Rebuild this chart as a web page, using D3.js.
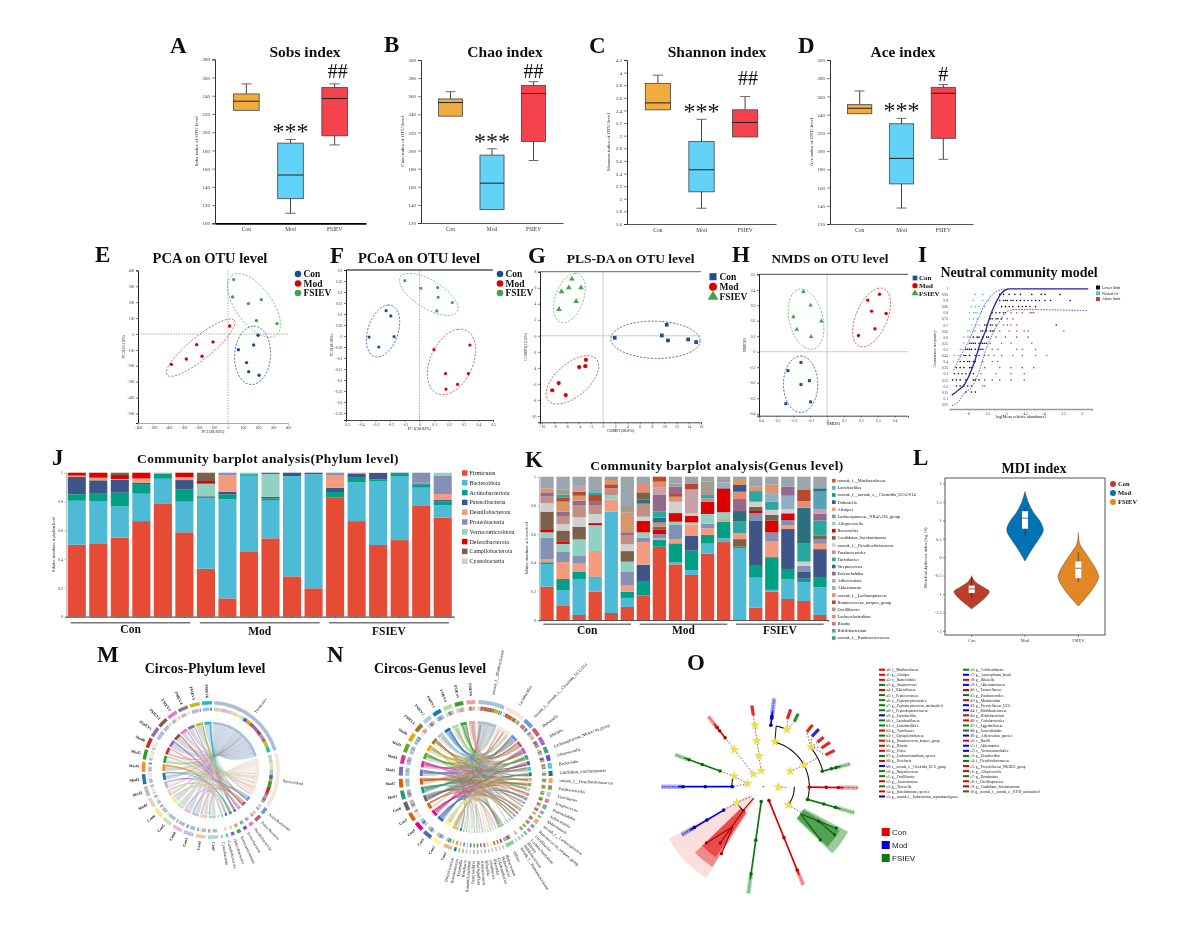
<!DOCTYPE html>
<html><head><meta charset="utf-8">
<script src="https://cdn.jsdelivr.net/npm/d3@7"></script>
<style>html,body{margin:0;padding:0;background:#fff}</style></head>
<body><svg id="c" width="1190" height="930"></svg>
<script>
// ---------- DATA ----------
const groups=["Con","Mod","FSIEV"];
const sobsCon=[224,224,234,242,253], sobsMod=[111,127,153,188,192], sobsFsiev=[186,196,237,249,253];
const chaoCon=[238,238,253,257,265], chaoMod=[135,135,164,195,202], chaoFsiev=[189,210,263,272,276];
const shanCon=[3.41,3.41,3.52,3.83,3.96], shanMod=[1.85,2.11,2.46,2.91,3.26], shanFsiev=[2.98,2.98,3.21,3.41,3.62];
const aceCon=[241,241,247,251,266], aceMod=[137.5,164,192,230,236], aceFsiev=[191,214,263.5,270,273];
const sobsTicks=[100,120,140,160,180,200,220,240,260,280];
const chaoTicks=[120,140,160,180,200,220,240,260,280,300];
const shanTicks=[1.6,1.8,2,2.2,2.4,2.6,2.8,3,3.2,3.4,3.6,3.8,4,4.2];
const aceTicks=[120,140,160,180,200,220,240,260,280,300];
const boxColors=["#F0AC3E","#62D2F6","#F5424F"];

const pcaCon=[[200,-8],[171,-69],[69,-99],[124,-180],[138,-237],[207,-260]];
const pcaMod=[[11,50],[-100,-50],[-209,-67],[-173,-140],[-278,-157],[-378,-191]];
const pcaFsiev=[[38,342],[31,233],[222,216],[136,191],[189,84],[327,65]];
const pcoaCon=[[-.227,.115],[-.195,.091],[-.173,-.003],[-.343,-.005],[-.277,-.05]];
const pcoaMod=[[.098,-.062],[.343,-.041],[.177,-.171],[.332,-.171],[.259,-.22],[.18,-.242]];
const pcoaFsiev=[[-.1,.252],[.009,.217],[.123,.22],[.127,.176],[.223,.152],[.118,.114]];
const plsCon=[[1.9,-.25],[9.6,.04],[10.4,1.38],[10.6,-.58],[13.9,-.46],[15.2,-.79]];
const plsMod=[[-2.8,-3],[-2.9,-3.8],[-3.9,-3.9],[-7.25,-5.9],[-6.1,-7.4],[-8.3,-6.8]];
const plsFsiev=[[-5.1,7.1],[-5.6,6],[-3.6,6],[-6.8,5.5],[-4.4,4.3],[-7.2,3.3]];
const nmdsCon=[[-.155,-.069],[-.232,-.122],[-.105,-.187],[-.155,-.212],[-.245,-.335],[-.098,-.324]];
const nmdsMod=[[.311,.371],[.241,.333],[.35,.247],[.264,.262],[.284,.148],[.186,.105]];
const nmdsFsiev=[[-.141,.388],[-.098,.3],[-.2,.225],[-.034,.197],[-.18,.144],[-.095,.097]];
// confidence ellipses read in data units: centre x, centre y, half-axis a (dx,dy), half-axis b (dx,dy)
const pcaEllipses=[[164,-134,7,184,120,0],[-182,-86,224,172,47,-55],[173,180,-147,189,98,67]];
const pcoaEllipses=[[-.248,.0227,.032,.118,.109,.0076],[.218,-.118,.041,.148,.159,.018],[.0636,.189,.193,-.079,.05,.0545]];
const plsEllipses=[[8.56,-.5,7.3,-.125,0,2.33],[-5,-5.5,3.63,2.79,2.31,-1.17],[-5.5,4.7,.875,3.08,2.44,.17]];
const nmdsEllipses=[[-.157,-.21,0,.182,.102,0],[.264,.221,.034,.187,.107,.036],[-.125,.21,-.016,.193,.105,-.026]];

const ncmSolid=[[-6.42,.125],[-6.25,.166],[-6.07,.22],[-5.94,.302],[-5.82,.397],[-5.67,.546],[-5.54,.641],[-5.4,.777],[-5.27,.872],[-5.1,.962],[-4.88,.995],[-2.8,.995]];
const ncmUpper=[[-6.38,.329],[-6.2,.438],[-6.03,.533],[-5.85,.655],[-5.72,.75],[-5.54,.872],[-5.32,.954],[-5.1,.989],[-4.88,.995]];
const ncmLower=[[-6.42,.038],[-6.25,.071],[-6.07,.147],[-5.89,.193],[-5.72,.302],[-5.54,.478],[-5.32,.641],[-5.14,.736],[-4.96,.81],[-4.74,.826],[-2.84,.818]];
const ncmFreq=[.95,.9,.85,.8,.75,.7,.65,.6,.55,.5,.45,.4,.35,.3,.25,.2,.15];
const ncmBlack=[[-5.15,-5.05,-4.9,-4.75,-4.6,-4.3,-4.05,-3.95,-3.55],[-5.15,-5.05,-5,-4.95,-4.85,-4.8,-4.7,-4.6,-4.5,-4.4,-4.3,-4.2,-4.1,-3.95,-3.8,-3.28],[-5.1,-5,-4.9,-4.8,-4.65,-4.55,-4.45,-4.35,-4.2],[-5.35,-5.25,-5.15,-5.05,-5],[-5.4,-5.35,-5.25,-5.2,-5.1],[-5.55,-5.5,-5.4,-5.35,-5.25,-3.65],[-5.65,-5.6,-5.5,-5.4,-5.35,-5.3],[-5.85,-5.75,-5.7,-5.6,-5.5,-5.45],[-5.95,-5.9,-5.85,-5.8,-5.7,-5.65,-5.6,-5.55,-5.5],[-6.05,-6,-5.95,-5.9,-5.8,-5.7,-5.65,-5.6],[-6.1,-6.05,-5.95,-5.8,-5.7],[-6.2,-6.1,-6,-5.95,-5.85,-5.8],[-6.3,-6.2,-6.1,-5.95,-5.9],[-6.35,-6.25,-6.15,-6.05,-5.95,-5.85],[-6.4,-6.3,-6.2,-6.05,-5.85,-5.8,-5.7],[-6.3,-6.2,-6.1,-6,-5.9],[-6.05,-5.9,-5.8]];
const ncmCyan=[[-5.6,-5.8],[-5.85,-5.6,-5.45],[-5.9,-5.8,-5.7,-5.55],[-5.95,-5.85,-5.8,-5.75,-5.65],[-5.95,-5.85,-5.75],[-5.9,-5.8,-5.7],[-6,-5.95,-5.85,-5.8],[-6.1,-6,-5.95],[-6.1],[-6.2,-6.15],[-6.35,-6.25,-6.2],[],[],[],[],[],[]];
const ncmRed=[[],[],[],[-4.85,-4.7,-4.55,-4.35,-4.3,-4.25],[-4.95,-4.8],[-5.05,-4.95,-4.85,-4.7],[-5.15,-4.9,-4.7,-4.5,-4.4,-3.45],[-5.25,-5,-4.7,-4.4],[-5.4,-5.1,-4.85,-4.3],[-5.35,-5.2,-4.7,-4.55,-4.2],[-5.55,-5.45,-5.3,-5.1,-4.8,-4.55,-4.2,-3.9],[-5.6,-5.35,-5.2],[-5.55,-5.15,-4.85,-4.55,-4.25],[-5.65,-5.25,-4.85,-4.5],[-5.55,-5.35,-5.15,-4.85,-4.5],[-5.6,-5.55],[]];

const samples=["Con1","Con2","Con3","Con4","Con5","Con6","Mod1","Mod2","Mod3","Mod4","Mod5","Mod6","FSIEV1","FSIEV2","FSIEV3","FSIEV4","FSIEV5","FSIEV6"];
const phylumNames=["Firmicutes","Bacteroidota","Actinobacteriota","Patescibacteria","Desulfobacterota","Proteobacteria","Verrucomicrobiota","Deferribacterota","Campilobacterota","Cyanobacteria"];
const phylumColors=["#E64B35","#4DBBD5","#00A087","#3C5488","#F39B7F","#8491B4","#91D1C2","#DC0000","#7E6148","#CCCCCC"];
const firmicutes=[.50,.505,.549,.664,.787,.586,.333,.127,.454,.544,.28,.197,.826,.664,.498,.532,.769,.688];
const bacteroidota=[.305,.295,.217,.19,.171,.213,.489,.688,.525,.262,.697,.793,0,.269,.444,.445,.127,.087];
const actinobacteriota=[.045,.054,.095,.067,.033,.083,.004,.035,.011,.016,0,0,.04,.032,.012,.016,.023,.024];
const patescibacteria=[.12,.093,.09,.009,0,.067,.01,.018,0,.011,.023,.01,.03,.03,.044,.007,.007,.011];
const desulfobacterota=[.01,.018,.005,.03,.009,.021,0,.113,0,0,0,0,.085,.005,.002,0,.004,.042];
const proteobacteria=[0,0,0,0,0,0,0,.019,0,0,0,0,.019,0,0,0,.07,.129];
const verrucomicrobiota=[0,0,0,0,0,0,.088,0,.01,.158,0,0,0,0,0,0,0,.019];
const deferribacterota=[.02,.035,.028,.04,0,.03,.018,0,0,0,0,0,0,0,0,0,0,0];
const campilobacterota=[0,0,.016,0,0,0,.058,0,0,.009,0,0,0,0,0,0,0,0];
const cyanobacteria=[0,0,0,0,0,0,0,0,0,0,0,0,0,0,0,0,0,0];
const phylumMatrix=[firmicutes,bacteroidota,actinobacteriota,patescibacteria,desulfobacterota,proteobacteria,verrucomicrobiota,deferribacterota,campilobacterota,cyanobacteria];

const genusNames=["norank_f__Muribaculaceae","Lactobacillus","norank_f__norank_o__Clostridia_UCG-014","Dubosiella","Alistipes","Lachnospiraceae_NK4A136_group","Alloprevotella","Bacteroides","Candidatus_Saccharimonas","norank_f__Desulfovibrionaceae","Parabacteroides","Turicibacter","Streptococcus","Enterorhabdus","Adlercreutzia","Akkermansia","norank_f__Lachnospiraceae","Ruminococcus_torques_group","Oscillibacter","Lachnoclostridium","Blautia","Bifidobacterium","norank_f__Ruminococcaceae"];
const genusColors=["#E64B35","#4DBBD5","#00A087","#3C5488","#F39B7F","#8491B4","#91D1C2","#DC0000","#7E6148","#D0D0D0","#C28F85","#2CA7A0","#29707F","#94698B","#C9A0AA","#8FB0C4","#D9966B","#B94A2E","#A8998E","#E88B74","#C77F7F","#56A0B8","#3F9A82","#9AA5AD"];
const othersName="Others";
const gCon1=[[0,.233],[1,.158],[2,.012],[4,.019],[5,.153],[6,.037],[7,.016],[8,.128],[9,.058],[10,.047],[13,.03],[16,.028],[23,.081]];
const gCon2=[[0,.098],[1,.109],[2,.079],[4,.119],[5,.07],[6,.056],[7,.014],[8,.079],[9,.044],[10,.058],[13,.03],[16,.07],[17,.03],[11,.02],[18,.036],[23,.088]];
const gCon3=[[0,.035],[1,.251],[2,.049],[4,.058],[5,.053],[6,.116],[8,.088],[9,.067],[10,.084],[13,.03],[16,.035],[17,.028],[14,.047],[23,.058]];
const gCon4=[[0,.198],[1,.098],[2,.007],[4,.179],[6,.181],[7,.014],[9,.063],[10,.063],[13,.023],[17,.047],[11,.019],[23,.109]];
const gCon5=[[0,.049],[1,.707],[4,.086],[6,.03],[10,.047],[17,.028],[16,.03],[18,.023]];
const gCon6=[[0,.091],[1,.063],[2,.042],[4,.044],[5,.095],[6,.072],[8,.074],[9,.047],[10,.065],[13,.019],[16,.137],[18,.053],[23,.198]];
const gMod1=[[0,.17],[2,.102],[3,.114],[4,.158],[5,.03],[6,.037],[7,.079],[9,.03],[10,.091],[12,.03],[8,.049],[19,.058],[23,.051]];
const gMod2=[[0,.512],[2,.047],[4,.012],[5,.03],[7,.033],[8,.019],[10,.028],[12,.035],[11,.042],[13,.116],[14,.051],[19,.042],[17,.035]];
const gMod3=[[0,.388],[1,.014],[2,.133],[4,.03],[5,.098],[6,.023],[7,.06],[9,.079],[16,.035],[17,.019],[13,.051],[18,.023],[23,.047]];
const gMod4=[[0,.314],[1,.033],[2,.137],[3,.102],[4,.081],[6,.014],[7,.047],[9,.016],[14,.167],[17,.042],[23,.047]];
const gMod5=[[0,.463],[1,.07],[2,.06],[4,.047],[5,.033],[6,.067],[7,.086],[10,.023],[11,.023],[18,.093],[23,.035]];
const gMod6=[[0,.544],[1,.026],[2,.116],[4,.019],[6,.047],[7,.167],[15,.042],[18,.016],[23,.023]];
const gFs1=[[1,.5],[2,.012],[8,.053],[4,.04],[11,.086],[12,.07],[13,.084],[19,.051],[3,.047],[16,.042],[23,.016]];
const gFs2=[[0,.086],[1,.209],[2,.088],[3,.307],[5,.053],[7,.016],[8,.028],[9,.037],[11,.074],[16,.03],[23,.07]];
const gFs3=[[0,.198],[1,.012],[2,.228],[4,.109],[5,.063],[7,.081],[8,.042],[9,.035],[11,.058],[15,.053],[16,.067],[23,.053]];
const gFs4=[[0,.147],[1,.14],[2,.07],[3,.279],[4,.028],[5,.035],[7,.047],[9,.03],[15,.093],[13,.063],[23,.07]];
const gFs5=[[0,.133],[1,.133],[2,.023],[3,.047],[5,.044],[9,.028],[11,.126],[12,.251],[19,.047],[17,.077],[23,.093]];
const gFs6=[[0,.035],[1,.193],[2,.072],[3,.195],[4,.037],[5,.03],[8,.026],[11,.107],[13,.047],[14,.033],[21,.126],[12,.019],[23,.081]];
const genusBars=[gCon1,gCon2,gCon3,gCon4,gCon5,gCon6,gMod1,gMod2,gMod3,gMod4,gMod5,gMod6,gFs1,gFs2,gFs3,gFs4,gFs5,gFs6];

const mdiConValues=[-1.4,-1.22,-1.083,-.93,-.812,-.677,-.54,-.5], mdiConDensity=[0,.41,.69,.87,.57,.2,.02,0];
const mdiModValues=[-.108,.226,.496,.722,.948,1.218,1.49,1.78], mdiModDensity=[0,.36,.69,.9,.77,.41,.16,0];
const mdiFsValues=[-1.327,-1.038,-.767,-.542,-.361,-.135,.135,.361,.659], mdiFsDensity=[0,.46,.82,1,.9,.66,.33,.07,0];
const mdiBoxes=[[-1.11,-.97,-.86,-.77,-.54],[.57,.77,1.056,1.245,1.33],[-.68,-.57,-.3,-.117,.135]];
const violinColors=["#BC3C29","#0072B5","#E18727"];

const circosPhylumSampleColors=["#A9DDC0","#F9C6A4","#B3C6DE","#F4B3D9","#C8E6B5","#F5E68A","#E3D3BE","#BBBBBB","#1F77B4","#FF8C1A","#2CA02C","#D62728","#9467BD","#8C564B","#E377C2","#7F7F7F","#BCBD22","#17BECF"];
const circosPhylumColors=["#A9BFD9","#F5E6D8","#6C95E8","#CC5A5A","#D98CAF","#8C3FD6","#2EA860","#7F52E0","#4FD0C9","#B7B7B7"];
const circosGenusSampleColors=["#F2B880","#FFF68F","#3A70B5","#E6007E","#C86A1E","#666666","#1E9E77","#D95F02","#7570B3","#E7298A","#66A61E","#E6AB02","#A6761D","#A6CEE3","#1F78B4","#B2DF8A","#33A02C","#FB9A99"];
const circosGenusColors=["#A9BFD9","#F5E6D8","#6C95E8","#C95E5E","#B35CD6","#3DA66B","#6A4FD6","#45CFCF","#0E7C7B","#F2A65A","#7FA63F","#B7CDE8","#E07F7F","#5BB8A0","#C28FD0","#8FC07F","#E0B070","#7FA0D8","#D07FA8","#70C0C0","#B0A060","#A0C8E0","#E8A0B8","#90D0A0","#C0C0E0","#F0C890","#9FD8D0","#D8B8E8","#B8D890","#A8B8D8","#E8C0A0","#98C8A8","#D0A8C0","#F0E090","#A0D0E8","#C8A880","#88B8A8","#0F7F7F"];
const extraGenusNames=["Ileibacterium","Helicobacter","Colidextribacter","Rikenella","Odoribacter","Bilophila","Anaerotruncus","Mucispirillum","Desulfovibrio","Ruminiclostridium","Roseburia","Tyzzerella","Intestinimonas","Butyricicoccus"];
const extraGenusValues=[.06,.05,.07,.04,.05,.06,.04,.05,.06,.04,.05,.04,.05,.18];
const extraGenusSample=[3,7,12,1,15,9,5,16,10,2,13,6,17,11];

const cladeBranches=[[-38,62,80,89,"r"],[-70,46,84,94,"g"],[-90,31,85,102,"b"],[-120.6,46,85,95,"b"],[188,15,93,108,"g"],[157.9,15,95,106,"r"],[75.3,61,80,90,"g"],[90.6,46,80,95,"r"],[106,46,80,95,"g"],[7,62,76,89,"b"]];
const cladeTips=[[-8,72,82,"r"],[19.5,72,82,"r"],[25.5,72,81,"g"],[38.5,70,79,"r"],[44,70,80,"b"],[50.6,70,78,"r"],[56.4,70,80,"r"],[63,70,80,"r"]];
const cladeDashed=[[-8,16,-8,72],[-38,16,-38,62],[-79,16,-70,31],[-70,31,-70,46],[-121,31,-130,15],[-121,31,-120.6,46],[126,31,124,46],[60,31,62,46],[62,46,62,61],[50,62,38.5,70],[50,62,44,70],[50,62,50.6,70],[50,62,56.4,70],[50,62,63,70],[22.5,62,19.5,72],[22.5,62,25.5,72],[-79,16,-90,31],[92,15,92,24]];
const cladeArcs=[[31,90,126],[46,14.5,107],[61.5,50,75],[62,12,22.6],[31.5,-90,-75],[31,-140,-121]];
const cladeRadial=[[14.5,46,12,62]];
const cladeStars=[[-7.7,62],[-8,46.5],[-8,31],[-8,16],[-38,16],[-38,47],[-70,31],[-79,16],[92,15],[126,31],[60,31],[62,46],[50,62],[14.5,46.5],[22.5,62],[-121,31]];
const cladeWedges=[[212,241,15,108,"r",.13],[212.4,226,31,95,"r",.38],[214,226,31,85,"r",.45],[118,134,46,96,"g",.4],[120,133,46,88,"g",.5]];
const cladeSub=[[220,31,217.4,71,"r"],[217.4,50,225.3,80,"r"],[217.4,50,212,79,"r"],[-140,15,220,31,"r"],[126,46,122,65,"g"],[122,65,119.6,84,"g"],[122,65,124,86,"g"],[126,46,133,78,"g"]];
const cladeColors={r:"#E00000",b:"#0000E0",g:"#0A7A0A"};
const biomarkersA=[["a0: f__Muribaculaceae","r"],["a1: g__Alistipes","r"],["a2: o__Bacteroidales","r"],["a3: g__Streptococcus","g"],["a4: f__Rikenellaceae","r"],["a5: f__Peptococcaceae","g"],["a6: o__Peptostreptococcales","g"],["a7: g__Peptostreptococcus_unclassified","g"],["a8: f__Peptostreptococcaceae","g"],["a9: g__Lactobacillus","b"],["b0: f__Lactobacillaceae","g"],["b1: o__Lactobacillales","g"],["b2: g__Turicibacter","r"],["b3: f__Erysipelotrichaceae","g"],["b4: g__Ruminococcus_torques_group","r"],["b5: g__Blautia","r"],["b6: g__Dorea","r"],["b7: g__Lachnoclostridium_species","g"],["b8: g__Roseburia","r"],["b9: f__norank_o__Clostridia_UCG_group","b"],["c0: g__Butyricicoccus","g"],["c1: g__Oscillibacter","g"],["c2: g__Anaerotruncus","r"],["c3: g__Tyzzerella","g"],["c4: g__Intestinimonas_species","r"],["c5: g__norank_f__Eubacterium_coprostanoligenes","b"]];
const biomarkersB=[["c6: g__Colidextribacter","g"],["c7: g__Anaeroplasma_hoarii","b"],["c8: g__Rikenella","r"],["c9: f__Akkermansiaceae","b"],["d0: f__Tannerellaceae","r"],["d1: g__Parabacteroides","g"],["d2: g__Muribaculum","r"],["d3: g__Prevotellaceae_UCG","b"],["d4: f__Bifidobacteriaceae","b"],["d5: g__Bifidobacterium","r"],["d6: o__Coriobacteriales","r"],["d7: f__Eggerthellaceae","g"],["d8: g__Enterorhabdus","g"],["d9: g__Adlercreutzia_species","b"],["e0: c__Bacilli","r"],["e1: f__Akkermansia","b"],["e2: o__Verrucomicrobiales","b"],["e3: g__Desulfovibrio","g"],["e4: f__Desulfovibrionaceae","g"],["e5: g__Prevotellaceae_NK3B31_group","r"],["e6: g__Alloprevotella","r"],["e7: g__Romboutsia","g"],["e8: f__Oscillospiraceae","r"],["e9: g__Candidatus_Saccharimonas","r"],["f0: g__norank_f__norank_o__RF39_unclassified","g"]];
const lefseLegend=["Con","Mod","FSIEV"];

// ---------- HELPERS ----------
const serif="'Liberation Serif',serif", sans="'Liberation Sans',sans-serif";
const svg=d3.select("#c");
const defs=svg.append("defs");
defs.append("filter").attr("id","soft").attr("x",0).attr("y",0).attr("width",1).attr("height",1)
  .attr("filterUnits","objectBoundingBox").append("feGaussianBlur").attr("stdDeviation",.45);
svg.append("rect").attr("width",1190).attr("height",930).attr("fill","#fff");
const root=svg.append("g").attr("filter","url(#soft)");
root.append("rect").attr("width",1190).attr("height",930).attr("fill","#fff");
function txt(s,x,y,size,o={}){
  return root.append("text").text(s).attr("x",x).attr("y",y).attr("font-size",size)
    .attr("font-family",o.family||serif).attr("font-weight",o.weight||"normal")
    .attr("text-anchor",o.anchor||"start").attr("fill",o.fill||"#111")
    .attr("letter-spacing",o.ls||null);
}
const letter=(s,x,y)=>txt(s,x,y,23,{weight:"bold"});
const title=(s,x,y,size=15.5,ls=null)=>txt(s,x,y,size,{weight:"bold",anchor:"middle",ls});
function vlabel(s,x,y,size=4.5){
  root.append("text").text(s).attr("transform",`translate(${x},${y}) rotate(-90)`)
   .attr("font-size",size).attr("font-family",serif).attr("text-anchor","middle").attr("fill","#222");
}
function styleAxis(g,size,color,lw=1){
  g.selectAll("text").attr("font-size",size).attr("font-family",serif).attr("fill","#333");
  g.selectAll(".tick line").attr("stroke",color).attr("stroke-width",.6);
  g.select(".domain").attr("stroke",color).attr("stroke-width",lw);
}
// ---------- BOX PANELS ----------
function boxPanel(o){
  const y=d3.scaleLinear().domain(o.dom).range([o.y1,o.y0]);
  const x=d3.scaleBand().domain(groups).range(o.x).padding(.42);
  const g=root.append("g");
  styleAxis(g.append("g").attr("transform",`translate(${o.x[0]},0)`)
     .call(d3.axisLeft(y).tickValues(o.ticks).tickSize(3).tickPadding(2).tickFormat(d3.format("~g"))),5,"#333");
  styleAxis(g.append("g").attr("transform",`translate(0,${o.y1})`)
     .call(d3.axisBottom(x).tickSize(0).tickPadding(4)),5.5,o.thick?"#000":"#555",o.thick?1.8:1);
  vlabel(o.ylab,o.x[0]-17,(o.y0+o.y1)/2,5);
  o.sets.forEach((s,i)=>{
    const [lo,q1,med,q3,hi]=s, cx=x(groups[i])+x.bandwidth()/2, bw=x.bandwidth();
    g.append("line").attr("x1",cx).attr("x2",cx).attr("y1",y(hi)).attr("y2",y(lo)).attr("stroke","#444");
    [hi,lo].forEach(v=>{ if(v!==q1) g.append("line").attr("x1",cx-bw*.2).attr("x2",cx+bw*.2).attr("y1",y(v)).attr("y2",y(v)).attr("stroke","#666");});
    g.append("rect").attr("x",x(groups[i])).attr("width",bw).attr("y",y(q3)).attr("height",y(q1)-y(q3)).attr("fill",boxColors[i]).attr("stroke","#444").attr("stroke-width",.8);
    g.append("line").attr("x1",x(groups[i])).attr("x2",x(groups[i])+bw).attr("y1",y(med)).attr("y2",y(med)).attr("stroke","#222").attr("stroke-width",1);
  });
  const mx=x("Mod")+x.bandwidth()/2, fx=x("FSIEV")+x.bandwidth()/2;
  txt("***",mx,y(o.sets[1][4]),24,{anchor:"middle"});
  txt(o.hash,fx+(o.hdx||0),o.hashY,20,{anchor:"middle"});
}
boxPanel({dom:[100,280],ticks:sobsTicks,x:[215,366],y0:59.3,y1:223.3,ylab:"Sobs index of OTU level",sets:[sobsCon,sobsMod,sobsFsiev],hash:"##",hashY:78,hdx:3,thick:true});
boxPanel({dom:[120,300],ticks:chaoTicks,x:[421,563],y0:60,y1:223,ylab:"Chao index of OTU level",sets:[chaoCon,chaoMod,chaoFsiev],hash:"##",hashY:78});
boxPanel({dom:[1.6,4.2],ticks:shanTicks,x:[627,776],y0:60,y1:224,ylab:"Shannon index of OTU level",sets:[shanCon,shanMod,shanFsiev],hash:"##",hashY:85,hdx:3});
boxPanel({dom:[120,300],ticks:aceTicks,x:[830,973],y0:60,y1:224,ylab:"Ace index of OTU level",sets:[aceCon,aceMod,aceFsiev],hash:"#",hashY:81});
letter("A",170,53);letter("B",384,52);letter("C",589,53);letter("D",798,53);
title("Sobs index",305,57);title("Chao index",505,57);title("Shannon index",717,57);title("Ace index",903,57);

// ---------- ORDINATION ----------
const ordColors=["#1B4F8F","#DD0000","#3FA34D"], ellColors=["#1F3F7F","#B03A3A","#4CAF50"];
const unitCircle=d3.range(0,361,6).map(d=>d*Math.PI/180);
function ellipse(e){
  const [cx,cy,ax,ay,bx,by]=e;
  return unitCircle.map(t=>[cx+ax*Math.cos(t)+bx*Math.sin(t), cy+ay*Math.cos(t)+by*Math.sin(t)]);
}
function ordPanel(o){
  const x=d3.scaleLinear().domain(o.xd).range(o.xr), y=d3.scaleLinear().domain(o.yd).range(o.yr);
  const g=root.append("g");
  if(o.hz!==false) g.append("line").attr("x1",o.xr[0]).attr("x2",o.xr[1]).attr("y1",y(0)).attr("y2",y(0)).attr("stroke",o.zc).attr("stroke-dasharray",o.zd).attr("stroke-width",o.zw);
  g.append("line").attr("x1",x(0)).attr("x2",x(0)).attr("y1",o.yr[0]).attr("y2",o.yr[1]).attr("stroke",o.zc).attr("stroke-dasharray",o.zd).attr("stroke-width",o.zw);
  styleAxis(g.append("g").attr("transform",`translate(${o.xr[0]},0)`).call(d3.axisLeft(y).tickValues(o.yt).tickSize(2).tickPadding(1.5).tickFormat(d3.format("~g"))),3.8,"#222");
  styleAxis(g.append("g").attr("transform",`translate(0,${o.yr[0]})`).call(d3.axisBottom(x).tickValues(o.xt).tickSize(2).tickPadding(1.5).tickFormat(d3.format("~g"))),3.8,o.bc||"#444",o.bw||1);
  if(o.top) g.append("line").attr("x1",o.xr[0]).attr("x2",o.xr[1]).attr("y1",o.yr[1]).attr("y2",o.yr[1]).attr("stroke",o.top).attr("stroke-width",1);
  txt(o.xl,(o.xr[0]+o.xr[1])/2,o.yr[0]+9.5,4.2,{anchor:"middle"});
  vlabel(o.yl,o.xr[0]-13,(o.yr[0]+o.yr[1])/2,4.2);
  const line=d3.line().x(d=>x(d[0])).y(d=>y(d[1]));
  o.sets.forEach((pts,i)=>{
    g.append("path").attr("d",line(ellipse(o.ell[i]))).attr("fill","none").attr("stroke",ellColors[i]).attr("stroke-width",.7).attr("stroke-dasharray","2.2,1.4");
    const sym=d3.symbol().type(o.sym[i]).size(o.size);
    g.selectAll(null).data(pts).join("path").attr("d",sym).attr("transform",d=>`translate(${x(d[0])},${y(d[1])})`).attr("fill",ordColors[i]);
  });
  groups.forEach((n,i)=>{
    g.append("path").attr("d",d3.symbol().type(o.sym[i]).size(o.lsize)()).attr("transform",`translate(${o.lx},${o.ly[i]})`).attr("fill",ordColors[i]);
    txt(n,o.lx+o.ltx,o.ly[i]+o.lfs*.33,o.lfs,{weight:"bold"});
  });
}
const c3=[d3.symbolCircle,d3.symbolCircle,d3.symbolCircle], s3=[d3.symbolSquare,d3.symbolCircle,d3.symbolTriangle];
ordPanel({xd:[-600,400],xr:[138,288],yd:[-560,400],yr:[423,270.4],xt:d3.range(-600,401,100),yt:d3.range(-500,401,100),zc:"#999",zd:"1.5,1.2",zw:.8,
  xl:"PC1(38.83%)",yl:"PC2(23.19%)",sets:[pcaCon,pcaMod,pcaFsiev],ell:pcaEllipses,sym:c3,size:9,bc:"#aaa",lx:298,ly:[274,283.5,293],lsize:34,ltx:5.5,lfs:9.5});
ordPanel({xd:[-.5,.5],xr:[346,493],yd:[-.382,.3],yr:[420,270],xt:d3.range(-5,6).map(d=>d/10),yt:d3.range(-7,7).map(d=>d*.05),zc:"#aaa",zd:"1.5,1.2",zw:.9,hz:false,top:"#000",
  xl:"PC1(30.82%)",yl:"PC2(18.92%)",sets:[pcoaCon,pcoaMod,pcoaFsiev],ell:pcoaEllipses,sym:c3,size:8,lx:500,ly:[274,283.5,293],lsize:34,ltx:5.5,lfs:9.5});
ordPanel({xd:[-10.3,16],xr:[540,701],yd:[-10.8,8],yr:[422.3,271.7],xt:d3.range(-10,17,2),yt:d3.range(-10,9,2),zc:"#ccc",zd:null,zw:1,top:"#666",
  xl:"COMP1(38.8%)",yl:"COMP2(12.3%)",sets:[plsCon,plsMod,plsFsiev],ell:plsEllipses,sym:s3,size:14,lx:713,ly:[276.7,286.7,296.7],lsize:50,ltx:6.5,lfs:9.5});
ordPanel({xd:[-.404,.48],xr:[759,908],yd:[-.413,.5],yr:[415.7,274.3],xt:d3.range(-4,5).map(d=>d/10),yt:d3.range(-4,6).map(d=>d/10),zc:"#ccc",zd:null,zw:1,top:"#444",
  xl:"NMDS1",yl:"NMDS2",sets:[nmdsCon,nmdsMod,nmdsFsiev],ell:nmdsEllipses,sym:s3,size:9,lx:915,ly:[278,285.7,293.3],lsize:22,ltx:4,lfs:7});
letter("E",95,262);letter("F",330,263);letter("G",528,263);letter("H",732,262);letter("I",918,262);
title("PCA on OTU level",210,263,14.5);title("PCoA on OTU level",419,263,14.5);title("PLS-DA on OTU level",630.6,263,13.5);title("NMDS on OTU level",830,263,13.2);
title("Neutral community model",1019,277,14);

// ---------- NEUTRAL MODEL ----------
(function(){
  const x=d3.scaleLinear().domain([-6.47,-2.71]).range([950,1091.7]), y=d3.scaleLinear().domain([.0115,1]).range([409,288.3]);
  const g=root.append("g");
  const ya=g.append("g").attr("transform","translate(950,0)").call(d3.axisLeft(y).tickValues(d3.range(1,21).map(d=>d*.05)).tickSize(0).tickPadding(2).tickFormat(d3.format("~g")));
  styleAxis(ya,3.6,"none");
  const xa=g.append("g").attr("transform","translate(0,409)").call(d3.axisBottom(x).tickValues([-6,-5.5,-5,-4.5,-4,-3.5,-3]).tickSize(1.5).tickPadding(1.5).tickFormat(d3.format("~g")));
  styleAxis(xa,3.8,"#999",1.6);
  txt("log(Mean relative abundance)",1021,418,4.2,{anchor:"middle"});
  vlabel("Occurrence frequency",936,349,4.2);
  const draw=(rows,col)=>rows.forEach((r,i)=>g.selectAll(null).data(r).join("circle").attr("cx",d=>x(d)).attr("cy",y(ncmFreq[i])).attr("r",.8).attr("fill",col));
  draw(ncmCyan,"#5BBBD8");draw(ncmRed,"#C2452F");draw(ncmBlack,"#111");
  const l=d3.line().x(d=>x(d[0])).y(d=>y(d[1])).curve(d3.curveMonotoneX);
  g.append("path").attr("d",l(ncmSolid)).attr("fill","none").attr("stroke","#23239A").attr("stroke-width",1.3);
  [ncmUpper,ncmLower].forEach(s=>g.append("path").attr("d",l(s)).attr("fill","none").attr("stroke","#3A3AAE").attr("stroke-width",.8).attr("stroke-dasharray","1.6,1.2"));
  ["Lower limit","Neutral fit","Above limit"].forEach((n,i)=>{
    const c=["#111","#5BBBD8","#C2452F"][i];
    g.append("rect").attr("x",1096).attr("y",285.5+i*5.8).attr("width",4).attr("height",4).attr("fill",c);
    txt(n,1102,288.8+i*5.8,3.8);
  });
})();

// ---------- STACKED BARS ----------
function stackedPanel(o){
  const x=d3.scaleBand().domain(samples).range(o.x).paddingInner(o.pad).paddingOuter(o.pad/2);
  const y=d3.scaleLinear().domain([0,1]).range([o.y1,o.y0]);
  const g=root.append("g");
  o.bars.forEach((segs,i)=>{
    const tot=d3.sum(segs,s=>s[1]); let acc=0;
    segs.forEach(([k,v])=>{
      if(v<=0) return;
      const h=v/tot;
      g.append("rect").attr("x",x(samples[i])).attr("width",x.bandwidth()).attr("y",y(acc+h)).attr("height",y(acc)-y(acc+h)).attr("fill",o.colors[k]);
      acc+=h;
    });
  });
  styleAxis(g.append("g").attr("transform",`translate(${o.x[0]},0)`).call(d3.axisLeft(y).tickValues([0,.2,.4,.6,.8,1]).tickSize(1.5).tickPadding(1.5).tickFormat(d3.format("~g"))),3.8,"#999",.6);
  styleAxis(g.append("g").attr("transform",`translate(0,${o.y1})`).call(d3.axisBottom(x).tickSize(1.5).tickFormat("")),3.8,"#555",1.2);
  vlabel(o.ylab,o.x[0]-11,(o.y0+o.y1)/2,3.8);
  [[0,5,"Con"],[6,11,"Mod"],[12,17,"FSIEV"]].forEach(([a,b,n],i)=>{
    g.append("line").attr("x1",x(samples[a])+3).attr("x2",x(samples[b])+x.bandwidth()-3).attr("y1",o.ln).attr("y2",o.ln).attr("stroke","#777").attr("stroke-width",1.4);
    txt(n,(x(samples[a])+x(samples[b])+x.bandwidth())/2,o.lab[i],o.labfs,{weight:"bold",anchor:"middle"});
  });
  o.names.forEach((n,i)=>{
    g.append("rect").attr("x",o.lx).attr("y",o.ly+i*o.ls-o.sw/2).attr("width",o.sw).attr("height",o.sw).attr("fill",o.colors[i]);
    txt(n,o.lx+o.sw+2,o.ly+i*o.ls+o.lf*.33,o.lf,{weight:o.lw||"normal"});
  });
}
const phylumBars=samples.map((s,i)=>phylumMatrix.map((col,k)=>[k,col[i]]));
stackedPanel({bars:phylumBars,colors:phylumColors,names:phylumNames,x:[66,453.5],y0:472.7,y1:616.7,pad:.16,ln:622.7,lab:[632.7,635,635],labfs:11.5,ylab:"Relative abundance at phylum level",lx:462,ly:473,ls:9.8,sw:5.5,lf:6});
stackedPanel({bars:genusBars,colors:genusColors,names:genusNames,x:[539,828],y0:476.7,y1:620,pad:.17,ln:624.3,lab:[634,634,634],labfs:11.5,ylab:"Relative abundance at Genus level",lx:832,ly:480.7,ls:7.15,sw:3.6,lf:4.4});
letter("J",52,465);letter("K",525,467);letter("L",913,465);
title("Community barplot analysis(Phylum level)",268,463,13.5,.35);
title("Community barplot analysis(Genus level)",717,470,13.5,.35);

// ---------- VIOLINS ----------
(function(){
  const x=d3.scaleBand().domain(groups).range([945,1105]);
  const y=d3.scaleLinear().domain([-2,2]).range([631,483.3]);
  const w=d3.scaleLinear().domain([0,1]).range([0,20.3]);
  const g=root.append("g");
  g.append("rect").attr("x",945).attr("y",478).attr("width",160).attr("height",157).attr("fill","none").attr("stroke","#555");
  styleAxis(g.append("g").attr("transform","translate(945,0)").call(d3.axisLeft(y).tickValues([-2,-1.5,-1,-.5,0,.5,1,1.5,2]).tickSize(2).tickPadding(1.5).tickFormat(d3.format("~g"))),4.2,"#444",0);
  styleAxis(g.append("g").attr("transform","translate(0,635)").call(d3.axisBottom(x).tickSize(2).tickPadding(2)),4.4,"#444",0);
  vlabel("Microbial dysbiosis index (log 10)",927,558,4.4);
  const sets=[[mdiConValues,mdiConDensity],[mdiModValues,mdiModDensity],[mdiFsValues,mdiFsDensity]];
  sets.forEach(([vals,dens],i)=>{
    const cx=x(groups[i])+x.bandwidth()/2;
    const pts=vals.map((v,j)=>[v,dens[j]]);
    const area=d3.area().y(d=>y(d[0])).x0(d=>cx-w(d[1])).x1(d=>cx+w(d[1])).curve(d3.curveCatmullRom);
    g.append("path").attr("d",area(pts)).attr("fill",violinColors[i]).attr("stroke","#333").attr("stroke-width",.4);
    const [lo,q1,med,q3,hi]=mdiBoxes[i];
    g.append("line").attr("x1",cx).attr("x2",cx).attr("y1",y(hi)).attr("y2",y(lo)).attr("stroke","#222").attr("stroke-width",.6);
    g.append("rect").attr("x",cx-3).attr("width",6).attr("y",y(q3)).attr("height",y(q1)-y(q3)).attr("fill","#fff");
    g.append("line").attr("x1",cx-3).attr("x2",cx+3).attr("y1",y(med)).attr("y2",y(med)).attr("stroke","#333").attr("stroke-width",.7);
    g.append("circle").attr("cx",1113).attr("cy",484+i*9).attr("r",3).attr("fill",violinColors[i]);
    txt(groups[i],1118,486+i*9,6.5,{weight:"bold"});
  });
  title("MDI index",1034,473,14);
})();

// ---------- CIRCOS ----------
function circos(o){
  const g=root.append("g").attr("transform",`translate(${o.cx},${o.cy})`);
  const rad=d=>d*Math.PI/180;
  const fSum=o.matrix.map(r=>d3.sum(r));
  const sSum=o.sampleNames.map((_,j)=>d3.sum(o.matrix,r=>r[j]));
  const raw=[...fSum.map(v=>o.k*v+o.fMin),...o.sampleNames.map(()=>o.sSpan)];
  const pads=[...fSum.map(()=>o.fPad),...o.sampleNames.map(()=>o.sPad)];
  const factor=360/(d3.sum(raw)+d3.sum(pads));
  let cur=o.start; const sectors=raw.map((v,i)=>{const a=cur,b=cur+v*factor;cur=b+pads[i]*factor;return [a,b];});
  const nF=fSum.length, fa=sectors.slice(0,nF), sa=sectors.slice(nF);
  const fCur=fa.map(d=>d[0]), sCur=sa.map(d=>d[0]);
  const ribbon=d3.ribbon();
  const arc=(r0,r1,a,b)=>d3.arc()({innerRadius:r0,outerRadius:r1,startAngle:rad(a),endAngle:rad(b)});
  const links=[];
  o.matrix.forEach((row,f)=>row.forEach((v,s)=>{
    if(v<=0) return;
    const fw=(fa[f][1]-fa[f][0])*v/fSum[f], sw=(sa[s][1]-sa[s][0])*v/sSum[s];
    links.push({f,s,v,fs:[fCur[f],fCur[f]+fw],ss:[sCur[s],sCur[s]+sw]});
    fCur[f]+=fw;sCur[s]+=sw;
  }));
  links.sort((a,b)=>b.v-a.v);
  g.selectAll(null).data(links).join("path")
    .attr("d",l=>ribbon({source:{startAngle:rad(l.fs[0]),endAngle:rad(l.fs[1]),radius:o.rRib},target:{startAngle:rad(l.ss[0]),endAngle:rad(l.ss[1]),radius:o.rRib}}))
    .attr("fill",l=>o.colors[l.f]).attr("fill-opacity",o.ribOp).attr("stroke",l=>o.sampleColors[l.s]).attr("stroke-width",.25).attr("stroke-opacity",.6);
  const seg=(r0,r1,a,b,c)=>g.append("path").attr("d",arc(r0,r1,a,b)).attr("fill",c);
  fa.forEach((d,i)=>{seg(o.rIn0,o.rIn1,d[0],d[1],o.colors[i]);seg(o.rOut0,o.rOut1,d[0],d[1],o.colors[i]);});
  sa.forEach((d,i)=>{seg(o.rIn0,o.rIn1,d[0],d[1],o.sampleColors[i]);seg(o.rOut0,o.rOut1,d[0],d[1],o.sampleColors[i]);});
  links.forEach(l=>{
    seg(o.rMid0,o.rMid1,l.fs[0],l.fs[1],o.sampleColors[l.s]);
    seg(o.rMid0,o.rMid1,l.ss[0],l.ss[1],o.colors[l.f]);
  });
  const label=(s,b,r,size,w)=>{
    const flip=((b%360)+360)%360>180;
    g.append("text").text(s).attr("transform",`rotate(${b-90}) translate(${r},0)`+(flip?" rotate(180)":""))
      .attr("text-anchor",flip?"end":"start").attr("dominant-baseline","middle").attr("font-size",size).attr("font-family",serif).attr("font-weight",w||"normal").attr("fill","#111");
  };
  fa.forEach((d,i)=>label(o.names[i],(d[0]+d[1])/2,o.rLabF,o.fsF));
  sa.forEach((d,i)=>label(o.sampleNames[i],(d[0]+d[1])/2,o.rLabS,o.fsS,"bold"));
}
circos({cx:210.7,cy:770,matrix:phylumMatrix,names:phylumNames,colors:circosPhylumColors,sampleNames:samples,sampleColors:circosPhylumSampleColors,
  start:3,k:7.2,fMin:1.5,fPad:2.6,sSpan:8.6,sPad:1.9,rRib:45,rIn0:45.5,rIn1:48.3,rMid0:59,rMid1:62.5,rOut0:65.5,rOut1:69,rLabF:73,rLabS:72,fsF:4,fsS:4,ribOp:.55});
const genusAll=[...genusNames,othersName,...extraGenusNames];
const genusMatrix=genusAll.map((_,g)=>samples.map((__,s)=>{
  if(g<24){const hit=genusBars[s].find(p=>p[0]===g);return hit?hit[1]:0;}
  return extraGenusSample[g-24]===s?extraGenusValues[g-24]:0;
}));
circos({cx:475.7,cy:777,matrix:genusMatrix,names:genusAll,colors:circosGenusColors,sampleNames:samples,sampleColors:circosGenusSampleColors,
  start:2,k:5.3,fMin:.9,fPad:1.7,sSpan:6.8,sPad:2.4,rRib:52.5,rIn0:53,rIn1:56,rMid0:66.5,rMid1:70.5,rOut0:73,rOut1:77,rLabF:84,rLabS:81,fsF:4.2,fsS:3.8,ribOp:.5});
letter("M",97,662);letter("N",327,662);
title("Circos-Phylum level",205,673,14);title("Circos-Genus level",430,673,14);

// ---------- CLADOGRAM ----------
(function(){
  const cx=763.3,cy=786.7, r=d3.scaleLinear().domain([0,108]).range([0,108]);
  const g=root.append("g");
  const gc=g.append("g").attr("transform",`translate(${cx},${cy})`);
  const rad=d=>d*Math.PI/180;
  const P=(b,d)=>[r(d)*Math.sin(rad(b)),-r(d)*Math.cos(rad(b))];
  const seg=d3.line();
  cladeWedges.forEach(([a,b,r0,r1,c,op])=>gc.append("path").attr("d",d3.arc()({innerRadius:r(r0),outerRadius:r(r1),startAngle:rad(a),endAngle:rad(b)})).attr("fill",cladeColors[c]).attr("fill-opacity",op));
  cladeDashed.forEach(([b0,r0,b1,r1])=>gc.append("path").attr("d",seg([P(b0,r0),P(b1,r1)])).attr("stroke","#333").attr("stroke-width",.7).attr("stroke-dasharray","1.6,1.6").attr("fill","none"));
  cladeArcs.forEach(([rr,a,b])=>{
    const pts=d3.range(a,b+.01,2).map(t=>P(t,rr));pts.push(P(b,rr));
    gc.append("path").attr("d",seg(pts)).attr("stroke","#111").attr("stroke-width",1.1).attr("fill","none");
  });
  cladeRadial.forEach(([b0,r0,b1,r1])=>gc.append("path").attr("d",seg([P(b0,r0),P(b1,r1)])).attr("stroke","#111").attr("stroke-width",1));
  cladeBranches.forEach(([b,r0,r1,r2,c])=>{
    gc.append("path").attr("d",seg([P(b,r1-4),P(b,r2)])).attr("stroke",cladeColors[c]).attr("stroke-opacity",.3).attr("stroke-width",4.5);
    gc.append("path").attr("d",seg([P(b,r0),P(b,r1)])).attr("stroke",cladeColors[c]).attr("stroke-width",1.7);
    gc.append("path").attr("d",seg([P(b,r1),P(b,r2)])).attr("stroke",cladeColors[c]).attr("stroke-opacity",.6).attr("stroke-width",1.5).attr("stroke-dasharray","1.5,1");
    [r0,(r0+r1)/2,r1-5].forEach(d=>{const p=P(b,d);gc.append("circle").attr("cx",p[0]).attr("cy",p[1]).attr("r",1.8).attr("fill",d3.color(cladeColors[c]).darker(.5));});
  });
  cladeTips.forEach(([b,r0,r1,c])=>{
    gc.append("path").attr("d",seg([P(b,r0),P(b,r1)])).attr("stroke",cladeColors[c]).attr("stroke-width",3.2).attr("stroke-opacity",.85);
  });
  cladeSub.forEach(([b0,r0,b1,r1,c])=>{
    gc.append("path").attr("d",seg([P(b0,r0),P(b1,r1)])).attr("stroke",d3.color(cladeColors[c]).darker(.8)).attr("stroke-width",1.1);
    const p=P(b1,r1);gc.append("circle").attr("cx",p[0]).attr("cy",p[1]).attr("r",1.6).attr("fill",d3.color(cladeColors[c]).darker(.8));
  });
  const star=d3.symbol().type(d3.symbolStar).size(24);
  cladeStars.forEach(([b,d])=>{const p=P(b,d);gc.append("path").attr("d",star).attr("transform",`translate(${p[0]},${p[1]})`).attr("fill","#F5E623").attr("stroke","#999").attr("stroke-width",.2);});
  gc.append("circle").attr("r",.6).attr("fill","#222");
  const lgd=(list,x)=>list.forEach(([n,c],i)=>{
    g.append("rect").attr("x",x).attr("y",668.7+i*5.07).attr("width",6).attr("height",2).attr("fill",cladeColors[c]);
    txt(n,x+7.5,671.2+i*5.07,3.5);
  });
  lgd(biomarkersA,879);lgd(biomarkersB,963);
  lefseLegend.forEach((n,i)=>{
    const c=cladeColors[["r","b","g"][i]];
    g.append("rect").attr("x",881.7).attr("y",828+i*13).attr("width",8).attr("height",8).attr("fill",c);
    txt(n,892,835+i*13,8,{family:sans,fill:"#222"});
  });
})();
letter("O",687,670);
</script></body></html>
